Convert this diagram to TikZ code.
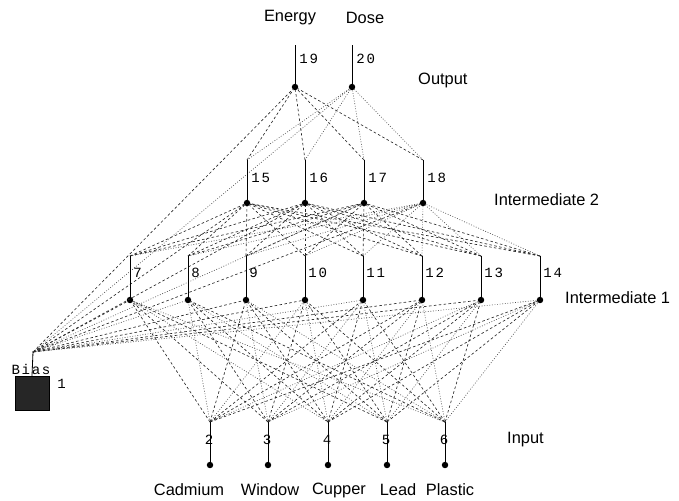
\documentclass[tikz,border=0pt]{standalone}
\usepackage{fontspec}
\setmainfont{Liberation Sans}
\newfontfamily\numfont[LetterSpace=12]{Liberation Mono}
\usetikzlibrary{positioning}

\begin{document}
\begin{tikzpicture}[
    x=0.03cm, y=-0.03cm,
    unit/.style={draw=black, line width=0.7pt},
    dot/.style={circle, fill=black, inner sep=0pt, minimum size=5.5pt},
    poslink/.style={draw=black!85, line width=0.55pt, dash pattern=on 2.2pt off 2pt},
    neglink/.style={draw=black!70, line width=0.55pt, dash pattern=on 0.7pt off 1.5pt},
    num/.style={font=\numfont\fontsize{12}{14}\selectfont, inner sep=1pt, anchor=west},
    layer/.style={font=\fontsize{14}{16}\selectfont, anchor=west, inner sep=0pt},
    signal/.style={font=\fontsize{14}{16}\selectfont, inner sep=0pt}
]
\useasboundingbox (0,0) rectangle (679,500);

% units: top end (t) sends, dot receives
\foreach \k/\x in {2/210,3/268,4/328,5/387,6/445} {
    \coordinate (t\k) at (\x,422);
    \node[dot] (n\k) at (\x,465) {};
}
\foreach \k/\x in {7/130,8/188,9/246,10/305,11/363,12/422,13/481,14/540} {
    \coordinate (t\k) at (\x,256);
    \node[dot] (n\k) at (\x,300) {};
}
\foreach \k/\x in {15/247,16/305,17/364,18/423} {
    \coordinate (t\k) at (\x,160);
    \node[dot] (n\k) at (\x,203) {};
}
\foreach \k/\x in {19/295,20/352} {
    \coordinate (t\k) at (\x,45);
    \node[dot] (n\k) at (\x,87) {};
}
\node[draw, fill=black!85, minimum size=1.02cm, inner sep=0pt] (bias) at (32,393) {};
\coordinate (tb) at (33,352);

% weights
\foreach \i in {2,...,6} \foreach \j in {7,...,14} {
    \pgfmathtruncatemacro\r{mod(\i*7+\j*13,5)}
    \ifnum\r<3 \draw[poslink] (t\i) -- (n\j); \else \draw[neglink] (t\i) -- (n\j); \fi
}
\foreach \i in {7,...,14} \foreach \j in {15,...,18} {
    \pgfmathtruncatemacro\r{mod(\i*5+\j*11,5)}
    \ifnum\r<3 \draw[poslink] (t\i) -- (n\j); \else \draw[neglink] (t\i) -- (n\j); \fi
}
\foreach \i in {15,...,18} \foreach \j in {19,20} {
    \pgfmathtruncatemacro\r{mod(\i*3+\j*7,3)}
    \ifnum\r<2 \draw[poslink] (t\i) -- (n\j); \else \draw[neglink] (t\i) -- (n\j); \fi
}
\foreach \j in {7,...,20} {
    \pgfmathtruncatemacro\r{mod(\j*7,3)}
    \ifnum\r<2 \draw[poslink] (tb) -- (n\j); \else \draw[neglink] (tb) -- (n\j); \fi
}

% unit lines
\foreach \k in {2,...,20} \draw[unit] (t\k) -- (n\k);
\draw[unit] (bias.north) -- (tb);

% unit numbers
\foreach \k/\x in {2/209,3/267,4/327,5/386,6/444}
    \node[num, anchor=center] (l\k) at (\x,440) {\k};
\foreach \k/\x in {7/130,8/188,9/246,10/305,11/363,12/422,13/481,14/540}
    \node[num] (l\k) at (\x+2,273) {\k};
\foreach \k/\x in {15/247,16/305,17/364,18/423}
    \node[num] (l\k) at (\x+3,178) {\k};
\foreach \k/\x in {19/295,20/352}
    \node[num] (l\k) at (\x+3,59) {\k};
\node[num, anchor=center] (lbias) at (31,369) {Bias};
\node[num] (l1) at (56,384) {1};

% layer names
\node[layer] (outl) at (418,80) {Output};
\node[layer] (int2) at (494,200) {Intermediate 2};
\node[layer] (int1) at (565,298) {Intermediate 1};
\node[layer] (inl) at (507,440) {Input};

% inputs and outputs
\node[signal] (energy) at (290,18) {Energy};
\node[signal] (dose) at (365,18) {Dose};
\node[signal] (cad) at (189,490) {Cadmium};
\node[signal] (win) at (270,490) {Window};
\node[signal] (cup) at (339,490) {Cupper};
\node[signal] (lead) at (398,490) {Lead};
\node[signal] (pla) at (450,490) {Plastic};
\end{tikzpicture}
\end{document}
